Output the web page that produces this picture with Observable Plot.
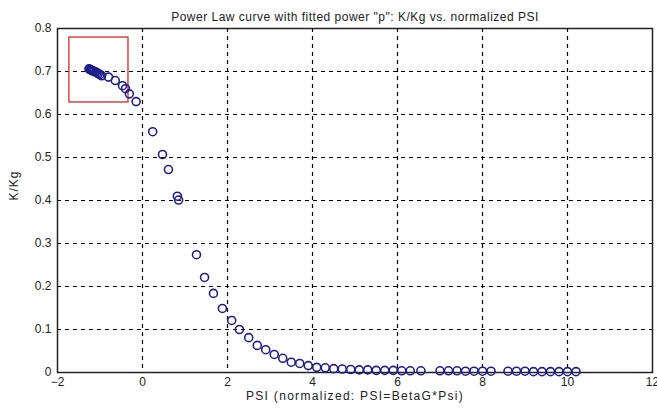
<!DOCTYPE html>
<html>
<head>
<meta charset="utf-8">
<script src="https://cdn.jsdelivr.net/npm/d3@7"></script>
<script src="https://cdn.jsdelivr.net/npm/@observablehq/plot@0.6"></script>
<style>
  html, body { margin: 0; padding: 0; background: #fff; }
  svg { display: block; }
</style>
</head>
<body>
<div id="chart"></div>
<script>
const titleText = 'Power Law curve with fitted power "p": K/Kg vs. normalized PSI';
const xLabel = "PSI (normalized: PSI=BetaG*Psi)";
const yLabel = "K/Kg";

const xTicks = [-2, 0, 2, 4, 6, 8, 10, 12];
const yTicks = [0, 0.1, 0.2, 0.3, 0.4, 0.5, 0.6, 0.7, 0.8];

const psi = [
  -1.26, -1.24, -1.22, -1.20, -1.18, -1.16, -1.13, -1.10, -1.07, -1.04, -1.00, -0.96,
  -0.80, -0.64, -0.47, -0.40, -0.31, -0.15,
  0.24, 0.47, 0.61, 0.82, 0.85,
  1.27, 1.46, 1.67, 1.88, 2.10, 2.28, 2.50, 2.70, 2.90, 3.10, 3.30, 3.50, 3.70, 3.90,
  4.10, 4.30, 4.50, 4.70, 4.90, 5.10, 5.30, 5.50, 5.70, 5.90, 6.10, 6.30, 6.55,
  7.00, 7.20, 7.40, 7.60, 7.80, 8.00, 8.20,
  8.60, 8.80, 9.00, 9.20, 9.40, 9.60, 9.80, 10.00, 10.20
];
const kkg = [
  0.706, 0.705, 0.704, 0.703, 0.702, 0.701, 0.700, 0.699, 0.697, 0.695, 0.693, 0.690,
  0.687, 0.679, 0.667, 0.660, 0.648, 0.630,
  0.560, 0.507, 0.472, 0.410, 0.401,
  0.274, 0.221, 0.184, 0.149, 0.121, 0.100, 0.081, 0.063, 0.053, 0.042, 0.033, 0.024, 0.021, 0.016,
  0.012, 0.011, 0.009, 0.008, 0.007, 0.006, 0.006, 0.005, 0.005, 0.005, 0.004, 0.004, 0.004,
  0.004, 0.004, 0.004, 0.003, 0.003, 0.003, 0.003,
  0.003, 0.003, 0.003, 0.002, 0.002, 0.002, 0.002, 0.002, 0.002
];

const highlightX1 = [-1.72];
const highlightX2 = [-0.33];
const highlightY1 = [0.628];
const highlightY2 = [0.779];

const points = psi.map((x, i) => ({x, y: kkg[i]}));
const boxes = highlightX1.map((x1, i) => ({x1, x2: highlightX2[i], y1: highlightY1[i], y2: highlightY2[i]}));

const font = "'Liberation Sans', Arial, sans-serif";

const chart = Plot.plot({
  width: 657,
  height: 412,
  marginLeft: 57,
  marginRight: 5,
  marginTop: 28,
  marginBottom: 40,
  style: {fontFamily: font, fontSize: "12px", color: "#222", background: "#fff"},
  x: {domain: [-2, 12]},
  y: {domain: [0, 0.8]},
  marks: [
    Plot.gridX(xTicks.filter(d => d > -2 && d < 12), {stroke: "#000", strokeOpacity: 1, strokeWidth: 1.2, strokeDasharray: "4,4"}),
    Plot.gridY(yTicks.filter(d => d > 0 && d < 0.8), {stroke: "#000", strokeOpacity: 1, strokeWidth: 1.2, strokeDasharray: "4,4"}),
    Plot.frame({stroke: "#222", strokeWidth: 1.5}),
    Plot.axisX(xTicks, {tickSize: 0, tickPadding: 5, label: null, fontSize: 12}),
    Plot.axisY(yTicks, {tickSize: 0, tickPadding: 6, label: null, tickFormat: d3.format("~g"), fontSize: 12}),
    Plot.rect(boxes, {x1: "x1", x2: "x2", y1: "y1", y2: "y2", fill: "none", stroke: "#d62728", strokeWidth: 1.3}),
    Plot.dot(points, {x: "x", y: "y", r: 4, stroke: "#1f1f8a", strokeWidth: 1.6, fill: "none"}),
    Plot.text([titleText], {frameAnchor: "top", dy: -16, fontSize: 12, fill: "#222"}),
    Plot.text([xLabel], {frameAnchor: "bottom", dy: 27, fontSize: 12, fill: "#222"}),
    Plot.text([yLabel], {frameAnchor: "left", dx: -43, rotate: -90, fontSize: 12, fill: "#222"})
  ]
});
document.getElementById("chart").appendChild(chart);

const spacing = new Map([[titleText, "0.5px"], [xLabel, "1.3px"], [yLabel, "1px"]]);
d3.select(chart).selectAll("text").each(function() {
  const s = spacing.get(this.textContent);
  if (s) d3.select(this).style("letter-spacing", s);
});
</script>
</body>
</html>
